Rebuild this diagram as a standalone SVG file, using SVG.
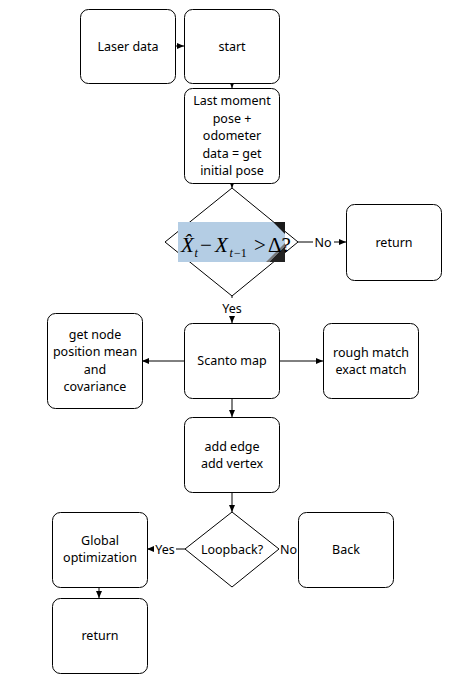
<svg xmlns="http://www.w3.org/2000/svg" width="464" height="694" viewBox="0 0 464 694">
<defs>
<marker id="ah" markerWidth="8" markerHeight="8" refX="7" refY="4" orient="auto" markerUnits="userSpaceOnUse">
<path d="M0,1 L7,4 L0,7 Z" fill="#000"/>
</marker>
</defs>
<style>
.box{fill:#fff;stroke:#000;stroke-width:1}
.dia{fill:#fff;stroke:#000;stroke-width:1}
.t{font-family:"Noto Sans","Open Sans",sans-serif;font-size:12.5px;fill:#000;text-anchor:middle}
.c{fill:none;stroke:#000;stroke-width:1}
.m{font-family:"Liberation Serif",serif;font-style:italic;fill:#000}
</style>
<rect width="464" height="694" fill="#fff"/>
<g id="connectors">
<line class="c" x1="176" y1="46" x2="184" y2="46" marker-end="url(#ah)"/>
<line class="c" x1="232" y1="84" x2="232" y2="88" marker-end="url(#ah)"/>
<line class="c" x1="232" y1="183" x2="232" y2="188" marker-end="url(#ah)"/>
<line class="c" x1="298" y1="242" x2="313" y2="242"/>
<line class="c" x1="334" y1="242" x2="346" y2="242" marker-end="url(#ah)"/>
<text class="t" x="323" y="246.5">No</text>
<line class="c" x1="232" y1="296" x2="232" y2="298"/>
<text class="t" x="232" y="313">Yes</text>
<line class="c" x1="232" y1="318" x2="232" y2="323" marker-end="url(#ah)"/>
<line class="c" x1="184" y1="361" x2="142" y2="361" marker-end="url(#ah)"/>
<line class="c" x1="279" y1="361" x2="323" y2="361" marker-end="url(#ah)"/>
<line class="c" x1="232" y1="398" x2="232" y2="417" marker-end="url(#ah)"/>
<line class="c" x1="232" y1="493" x2="232" y2="512" marker-end="url(#ah)"/>
<line class="c" x1="185" y1="549" x2="176" y2="549"/>
<text class="t" x="165" y="553.5">Yes</text>
<line class="c" x1="154" y1="549" x2="147" y2="549" marker-end="url(#ah)"/>
<text class="t" x="288.5" y="553.5">No</text>
<line class="c" x1="99" y1="587" x2="99" y2="598" marker-end="url(#ah)"/>
</g>
<g id="laser">
<rect class="box" x="80.5" y="9.5" width="95" height="74" rx="8"/>
<text class="t" x="128" y="51">Laser data</text>
</g>
<g id="start">
<rect class="box" x="184.5" y="9.5" width="95" height="74" rx="8"/>
<text class="t" x="232" y="51">start</text>
</g>
<g id="initpose">
<rect class="box" x="184.5" y="88.5" width="95" height="95" rx="8"/>
<text class="t" x="232" y="105">Last moment</text>
<text class="t" x="232" y="122.5">pose +</text>
<text class="t" x="232" y="140">odometer</text>
<text class="t" x="232" y="157.5">data = get</text>
<text class="t" x="232" y="175">initial pose</text>
</g>
<g id="check">
<polygon class="dia" points="232,188 298,242 232,296 165,242"/>
<rect x="178" y="222" width="107" height="40" fill="#b4cde4"/>
<polygon points="273,222 285,222 285,234" fill="#1a1a1a"/>
<polygon points="285,246 285,262 269,262" fill="#222"/>
<polygon points="285,246 269,262 266,262 285,243" fill="#777"/>
<text class="m" font-size="21"><tspan x="181" y="252">X&#770;</tspan><tspan x="194.5" y="257" font-size="12">t</tspan><tspan x="200" y="252" font-style="normal">−</tspan><tspan x="215" y="252">X</tspan><tspan x="229.5" y="257" font-size="12">t</tspan><tspan x="234" y="257" font-size="12" font-style="normal">−1</tspan><tspan x="254" y="252" font-style="normal">&gt;</tspan><tspan x="268" y="252" font-style="normal">Δ?</tspan></text>
</g>
<g id="return1">
<rect class="box" x="346.5" y="204.5" width="95" height="76" rx="8"/>
<text class="t" x="394" y="246.5">return</text>
</g>
<g id="scanto">
<rect class="box" x="184.5" y="323.5" width="95" height="75" rx="8"/>
<text class="t" x="232" y="365">Scanto map</text>
</g>
<g id="getnode">
<rect class="box" x="47.5" y="313.5" width="95" height="95" rx="8"/>
<text class="t" x="95" y="338.5">get node</text>
<text class="t" x="95" y="356">position mean</text>
<text class="t" x="95" y="373.5">and</text>
<text class="t" x="95" y="391">covariance</text>
</g>
<g id="match">
<rect class="box" x="323.5" y="323.5" width="95" height="75" rx="8"/>
<text class="t" x="371" y="356.5">rough match</text>
<text class="t" x="371" y="373.5">exact match</text>
</g>
<g id="addedge">
<rect class="box" x="184.5" y="417.5" width="95" height="75" rx="8"/>
<text class="t" x="232" y="450.5">add edge</text>
<text class="t" x="232" y="468">add vertex</text>
</g>
<g id="loopback">
<polygon class="dia" points="232,512 279,549 232,587 185,549"/>
<text class="t" x="232" y="553.5">Loopback?</text>
</g>
<g id="global">
<rect class="box" x="52.5" y="512.5" width="95" height="75" rx="8"/>
<text class="t" x="100" y="544.5">Global</text>
<text class="t" x="100" y="562">optimization</text>
</g>
<g id="back">
<rect class="box" x="298.5" y="512.5" width="95" height="75" rx="8"/>
<text class="t" x="346" y="553.5">Back</text>
</g>
<g id="return2">
<rect class="box" x="52.5" y="598.5" width="95" height="75" rx="8"/>
<text class="t" x="100" y="640">return</text>
</g>
</svg>
